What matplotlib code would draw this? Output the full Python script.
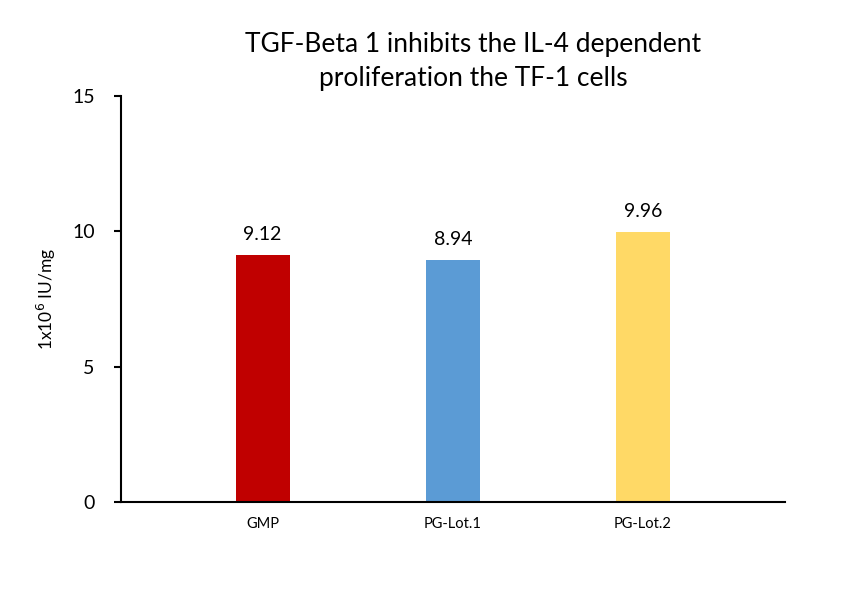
import matplotlib.pyplot as plt
import numpy as np

plt.rcParams['font.family'] = ['Lato', 'DejaVu Sans']

categories = ['GMP', 'PG-Lot.1', 'PG-Lot.2']
values = [9.12, 8.94, 9.96]
colors = ['#C00000', '#5B9BD5', '#FFD966']

fig = plt.figure(figsize=(8.52, 5.91), dpi=100)
ax = fig.add_axes([0.142, 0.1506, 0.779, 0.687])

x = np.arange(len(categories))
bars = ax.bar(x, values, width=0.284, color=colors)
for b, v in zip(bars, values):
    ax.text(b.get_x() + b.get_width() / 2, v + 0.45, f'{v:.2f}',
            ha='center', va='bottom', fontsize=14)

ax.set_xlim(-0.745, 2.745)
ax.set_ylim(0, 15)
ax.set_yticks([0, 5, 10, 15])
ax.set_xticks(x)
ax.set_xticklabels(categories, fontsize=10.5)
ax.tick_params(axis='x', length=0, pad=11)
ax.tick_params(axis='y', labelsize=14, length=5, width=1.5, pad=14)
ax.spines['top'].set_visible(False)
ax.spines['right'].set_visible(False)
ax.spines['left'].set_linewidth(1.5)
ax.spines['bottom'].set_linewidth(1.5)
ax.set_ylabel('1x10$^6$ IU/mg', fontsize=12.5, labelpad=10)

fig.text(0.555, 0.896, 'TGF-Beta 1 inhibits the IL-4 dependent\nproliferation the TF-1 cells',
         ha='center', va='center', fontsize=19, linespacing=1.45)

fig.savefig('out.png', dpi=100)
